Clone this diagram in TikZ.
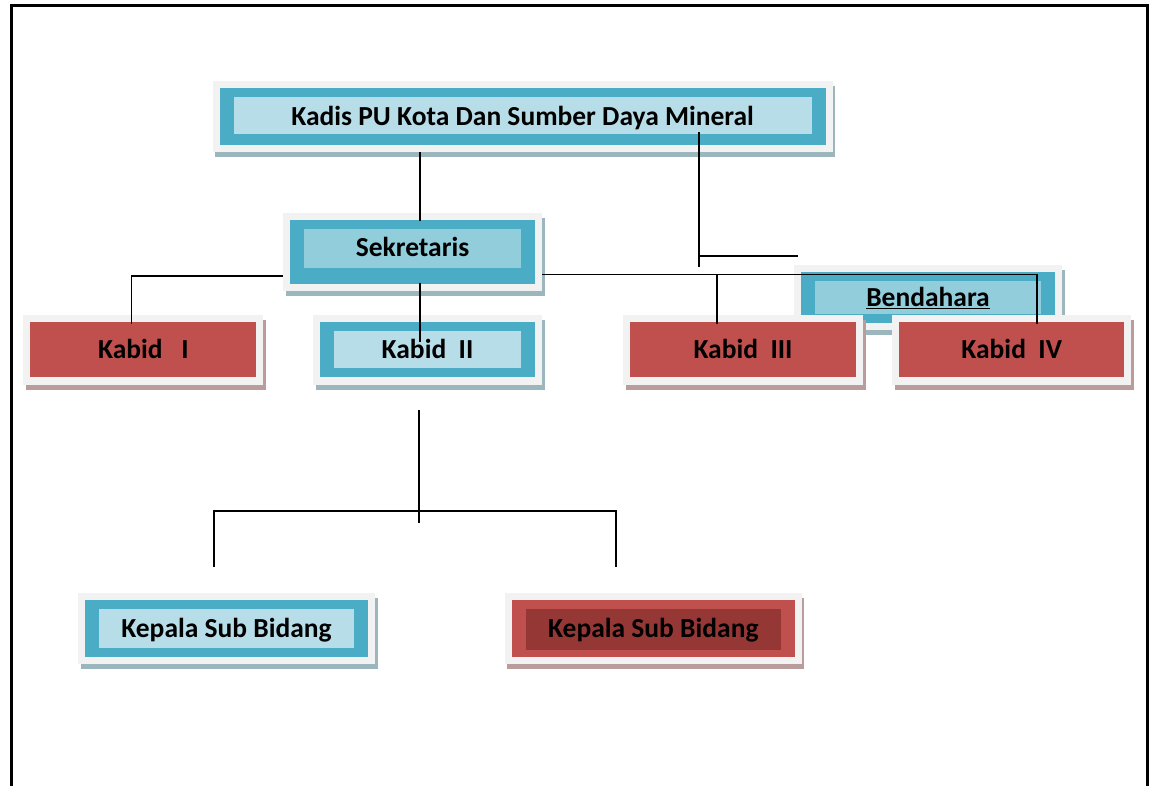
\documentclass[tikz,border=0pt]{standalone}
\usepackage{fontspec}
\setmainfont{Carlito}
\usetikzlibrary{shadows}

\definecolor{framegrey}{HTML}{F2F2F2}
\definecolor{tealout}{HTML}{4BACC6}
\definecolor{tealin}{HTML}{B7DDE8}
\definecolor{tealmid}{HTML}{92CDDC}
\definecolor{redout}{HTML}{C0504D}
\definecolor{redin}{HTML}{953735}
\definecolor{shadowblue}{HTML}{9CB6BE}
\definecolor{shadowred}{HTML}{BA9C9C}

\newcommand{\orgfont}{\bfseries\fontsize{27.5}{32}\selectfont}

\tikzset{
  orgbox/.style={fill=framegrey, inner sep=0pt, font=\orgfont, text=black,
    text height=19pt, text depth=1.6pt},
  onetone/.style={orgbox, path picture={
      \fill[#1] ([shift={(7pt,-7pt)}]path picture bounding box.north west)
        rectangle ([shift={(-7pt,7pt)}]path picture bounding box.south east);}},
  twotone/.style n args={3}{orgbox, path picture={
      \fill[#1] ([shift={(7pt,-7pt)}]path picture bounding box.north west)
        rectangle ([shift={(-7pt,7pt)}]path picture bounding box.south east);
      \fill[#2] ([shift={(21pt,-16pt)}]path picture bounding box.north west)
        rectangle ([shift={(-21pt,#3)}]path picture bounding box.south east);}},
  blueshadow/.style={general shadow={fill=shadowblue, shadow xshift=2.5pt, shadow yshift=-5pt}},
  redshadow/.style={general shadow={fill=shadowred, shadow xshift=2.5pt, shadow yshift=-5pt}},
  conn/.style={line width=1.5pt, black}
}

\begin{document}
\begin{tikzpicture}[x=1pt, y=-1pt]
\useasboundingbox (0,0) rectangle (1149,786);

% page frame
\draw[line width=3pt] (11,786) -- (11,6) -- (1147.5,6) -- (1147.5,786);

% boxes
\node[twotone={tealout}{tealin}{17.5pt}, blueshadow, minimum width=620pt, minimum height=71pt]
  (kadis) at (522.6,116.5) {Kadis PU Kota Dan Sumber Daya Mineral};
\node[twotone={tealout}{tealmid}{23pt}, blueshadow, minimum width=259pt, minimum height=78pt, text depth=11.6pt]
  (sekretaris) at (412.5,252.5) {Sekretaris};
\node[twotone={tealout}{tealmid}{16pt}, blueshadow, minimum width=268pt, minimum height=65pt]
  (bendahara) at (928,297.5) {\underline{Bendahara}};

\node[onetone=redout, redshadow, minimum width=240pt, minimum height=69pt]
  (kabid1) at (143.4,350) {Kabid\ \ \ I};
\node[twotone={tealout}{tealin}{16pt}, blueshadow, minimum width=229pt, minimum height=69pt]
  (kabid2) at (427.5,350) {Kabid\ \ II};
\node[onetone=redout, redshadow, minimum width=240pt, minimum height=69pt]
  (kabid3) at (743,350) {Kabid\ \ III};
\node[onetone=redout, redshadow, minimum width=239pt, minimum height=69pt]
  (kabid4) at (1011.7,350) {Kabid\ \ IV};

\node[twotone={tealout}{tealin}{16pt}, blueshadow, minimum width=297pt, minimum height=71pt]
  (kepala1) at (226.5,628.8) {Kepala Sub Bidang};
\node[twotone={redout}{redin}{14.5pt}, redshadow, minimum width=297pt, minimum height=71pt]
  (kepala2) at (653.3,628.8) {Kepala Sub Bidang};

% connectors
\coordinate (spine) at (420,0);
\coordinate (btap) at (699,267);
\coordinate (bend) at (798,256);
\coordinate (lbar) at ([yshift=-23.5pt]sekretaris.west);
\coordinate (rbar) at ([yshift=-22pt]sekretaris.east);

\draw[conn] (kadis.south -| spine) -- ([yshift=-8pt]sekretaris.north -| spine);
\draw[conn] (kadis.south -| btap) ++(0,-20) -- (btap);
\draw[conn] (btap |- bend) -- (bend);
\draw[conn] (lbar) -| ([xshift=-12pt,yshift=-9pt]kabid1.north);
\draw[conn] ([yshift=9pt]sekretaris.south -| spine) -- ([yshift=8pt]kabid2.center -| spine);
\draw[conn] (rbar) -| ([xshift=25.3pt,yshift=-9pt]kabid4.north);
\draw[conn] ([xshift=-26pt,yshift=-9pt]kabid3.north) coordinate (k3) -- (k3 |- rbar);

% lower branch
\coordinate (stem) at (419,410);
\coordinate (fork) at (419,523);
\coordinate (bar) at (0,511);
\coordinate (lft) at (214,567);
\coordinate (rgt) at (616,567);
\draw[conn] (stem) -- (fork);
\draw[conn] (lft) -- (lft |- bar) -- (rgt |- bar) -- (rgt);
\end{tikzpicture}
\end{document}
